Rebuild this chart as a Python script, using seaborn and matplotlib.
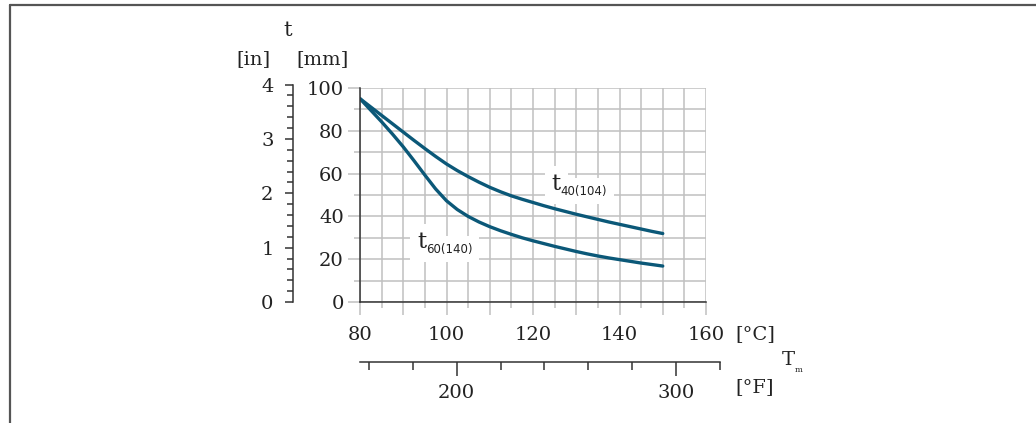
import numpy as np
import pandas as pd
import matplotlib
matplotlib.use("Agg")
import matplotlib.pyplot as plt
import seaborn as sns
from matplotlib.ticker import MultipleLocator, FixedLocator, FuncFormatter
from matplotlib.lines import Line2D

# ---------------- data ----------------
temp_c = [80, 82.5, 85, 87.5, 90, 92.5, 95, 97.5, 100, 102.5, 105, 107.5, 110, 112.5,
          115, 117.5, 120, 122.5, 125, 127.5, 130, 132.5, 135, 137.5, 140, 142.5,
          145, 147.5, 150]
t40_mm = [95, 91.1, 87.2, 83.3, 79.4, 75.5, 71.7, 68, 64.5, 61.4, 58.6, 56, 53.6, 51.5,
          49.6, 48, 46.5, 45, 43.6, 42.3, 41, 39.8, 38.6, 37.4, 36.3, 35.2,
          34.1, 33, 32]
t60_mm = [95, 89.6, 84.2, 78.5, 72.5, 66, 59.3, 52.8, 47.3, 43.2, 40, 37.4, 35.2, 33.3,
          31.6, 30, 28.6, 27.3, 26, 24.8, 23.6, 22.5, 21.5, 20.6, 19.8, 19,
          18.2, 17.5, 16.8]
c_ticks = [80, 100, 120, 140, 160]
f_major = [200, 300]
f_minor = [160, 180, 220, 240, 260, 280, 320]
in_ticks = [0, 1, 2, 3, 4]
labels = ["t40(104)", "t60(140)"]

df = pd.DataFrame({
    "T": temp_c * 2,
    "t": t40_mm + t60_mm,
    "curve": [labels[0]] * len(temp_c) + [labels[1]] * len(temp_c),
})

# ---------------- style ----------------
sns.set_style("white")
plt.rcParams["font.family"] = ["DejaVu Serif"]
plt.rcParams["mathtext.fontset"] = "dejavuserif"

W, H = 1036, 423
fig = plt.figure(figsize=(W / 100, H / 100), dpi=100)

def fx(px):
    return px / W

def fy(py):
    return 1 - py / H

FS = 14
dark = "#333333"
tc = "#222222"
grid_c = "#c0c0c0"
curve_c = "#0b5878"

x0, x1 = 360, 706
y0, y1 = 302, 88
mm_px = (y0 - y1) / 100.0
ax = fig.add_axes([fx(x0), fy(y0), fx(x1 - x0), (y0 - y1) / H])
sns.lineplot(data=df, x="T", y="t", hue="curve", palette=[curve_c, curve_c],
             linewidth=2.4, legend=False, ax=ax, zorder=3)
ax.set_xlim(80, 160)
ax.set_ylim(0, 100)
ax.set_xlabel("")
ax.set_ylabel("")
for s in ["top", "right"]:
    ax.spines[s].set_visible(False)
for s in ["left", "bottom"]:
    ax.spines[s].set_color(dark)
    ax.spines[s].set_linewidth(1.1)
    ax.spines[s].set_zorder(4)

ax.xaxis.set_major_locator(MultipleLocator(10))
ax.xaxis.set_minor_locator(MultipleLocator(5))
ax.xaxis.set_major_formatter(FuncFormatter(lambda v, p: f"{int(v)}" if int(round(v)) in c_ticks else ""))
ax.yaxis.set_major_locator(MultipleLocator(20))
ax.yaxis.set_minor_locator(MultipleLocator(10))
ax.grid(which="both", color=grid_c, linewidth=1.1, zorder=0)
ax.set_axisbelow(True)
ax.tick_params(axis="x", which="both", bottom=True)
ax.tick_params(axis="y", which="both", left=True)
ax.tick_params(axis="x", which="major", length=9.5, width=1.1, color=grid_c,
               labelsize=FS, pad=8, labelcolor=tc)
ax.tick_params(axis="x", which="minor", length=4.5, width=1.1, color=grid_c)
ax.tick_params(axis="y", which="major", length=8.6, width=1.1, color=grid_c,
               labelsize=FS, pad=3, labelcolor=tc)
ax.tick_params(axis="y", which="minor", length=4.3, width=1.1, color=grid_c)

# curve labels: white background layer first, then the visible text on top
def curve_label(x, y, sub):
    for layer in ("bg", "fg"):
        col = "none" if layer == "bg" else tc
        z = 2.4 if layer == "bg" else 2.6
        kw_t = dict(bbox=dict(boxstyle="square,pad=0.3", fc="white", ec="none")) if layer == "bg" else {}
        kw_s = dict(bbox=dict(boxstyle="square,pad=0.55", fc="white", ec="none")) if layer == "bg" else {}
        ax.text(x, y, "t", fontsize=16.5, color=col, va="baseline", ha="left",
                zorder=z, **kw_t)
        ax.annotate(sub, xy=(x, y), xycoords="data", xytext=(6.5, -3.5),
                    textcoords="offset points", fontsize=8.5, color=col,
                    family="DejaVu Sans", va="baseline", ha="left", zorder=z, **kw_s)

curve_label(124.3, 52.3, "40(104)")
curve_label(93.2, 25.3, "60(140)")

# inch axis
in_top = 4.1
ax_in = fig.add_axes([fx(293), fy(y0), 0.0005, in_top * 25.4 * mm_px / H])
ax_in.set_ylim(0, in_top)
ax_in.set_xticks([])
for s in ["top", "right", "bottom"]:
    ax_in.spines[s].set_visible(False)
ax_in.spines["left"].set_color(dark)
ax_in.spines["left"].set_linewidth(1.1)
ax_in.spines["left"].set_bounds(0, 4)
ax_in.yaxis.set_major_locator(FixedLocator(in_ticks))
ax_in.yaxis.set_minor_locator(MultipleLocator(0.2))
ax_in.tick_params(axis="y", which="both", left=True)
ax_in.tick_params(axis="y", which="major", length=6, width=1.1, color=dark,
                  labelsize=FS, pad=8, labelcolor=tc)
ax_in.tick_params(axis="y", which="minor", length=4, width=1.1, color=dark)
ax_in.patch.set_alpha(0)

# Fahrenheit axis
ax_f = fig.add_axes([fx(360), fy(362), fx(720 - 360), 0.0005])
ax_f.set_xlim(155.9, 320)
ax_f.set_yticks([])
for s in ["top", "right", "left"]:
    ax_f.spines[s].set_visible(False)
ax_f.spines["bottom"].set_color(dark)
ax_f.spines["bottom"].set_linewidth(1.1)
ax_f.xaxis.set_major_locator(FixedLocator(f_major))
ax_f.xaxis.set_minor_locator(FixedLocator(f_minor))
ax_f.tick_params(axis="x", which="both", bottom=True)
ax_f.tick_params(axis="x", which="major", length=10, width=1.1, color=dark,
                 labelsize=FS, pad=6, labelcolor=tc)
ax_f.tick_params(axis="x", which="minor", length=6, width=1.1, color=dark)
ax_f.patch.set_alpha(0)

# axis titles
fig.text(fx(288), fy(31), "t", fontsize=FS + 1, ha="center", va="center", color=tc)
fig.text(fx(253), fy(59), "[in]", fontsize=FS, ha="center", va="center", color=tc)
fig.text(fx(322), fy(59), "[mm]", fontsize=FS, ha="center", va="center", color=tc)
fig.text(fx(755), fy(334), "[°C]", fontsize=FS, ha="center", va="center", color=tc)
fig.text(fx(755), fy(387), "[°F]", fontsize=FS, ha="center", va="center", color=tc)
fig.text(fx(788), fy(360), "T", fontsize=FS, ha="center", va="center", color=tc)
fig.text(fx(799), fy(370), "m", fontsize=6, ha="center", va="center", color=tc)

# frame
fig.add_artist(Line2D([fx(10), fx(1036)], [fy(5), fy(5)], transform=fig.transFigure,
                      color="#555555", linewidth=1.6))
fig.add_artist(Line2D([fx(10), fx(10)], [fy(5), 0], transform=fig.transFigure,
                      color="#555555", linewidth=1.6))

fig.savefig("out.png", dpi=100, facecolor="white")
